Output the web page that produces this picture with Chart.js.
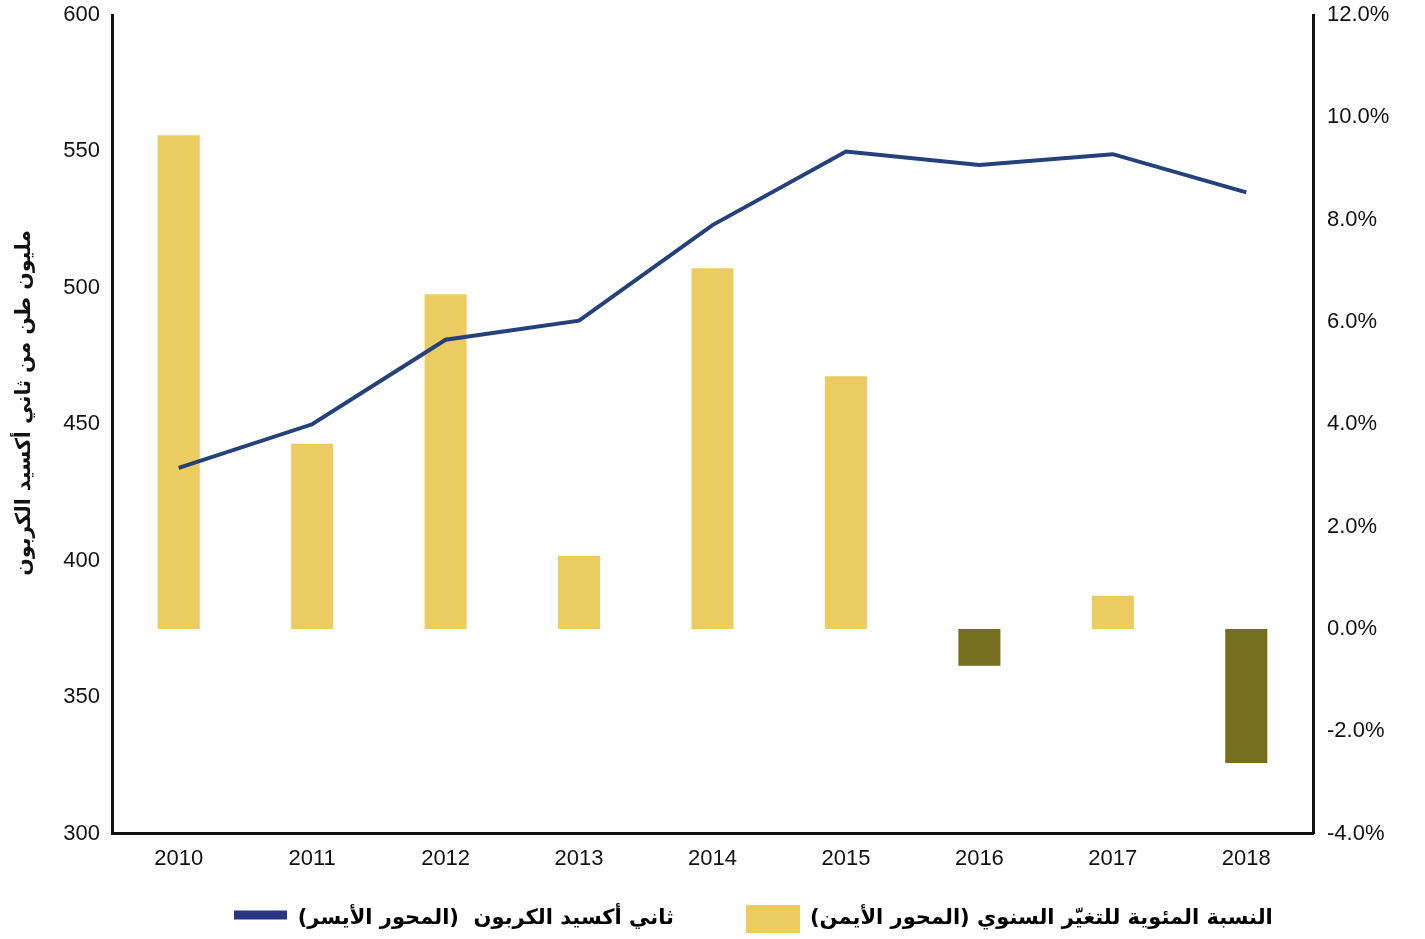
<!DOCTYPE html>
<html>
<head>
<meta charset="utf-8">
<script src="https://cdn.jsdelivr.net/npm/chart.js@4"></script>
<style>
  html, body { margin: 0; padding: 0; background: #fff; }
  #wrap { width: 1425px; height: 939px; }
</style>
</head>
<body>
<div id="wrap"><canvas id="chart"></canvas></div>
<script>
const years = ['2010', '2011', '2012', '2013', '2014', '2015', '2016', '2017', '2018'];
// million tonnes of CO2 (left axis)
const co2 = [434, 450, 481, 488, 523, 550, 545, 549, 535];
// annual change in percent (right axis)
const changePct = [9.65, 3.62, 6.54, 1.43, 7.05, 4.94, -0.72, 0.65, -2.62];

const lineLabel = 'ثاني أكسيد الكربون  (المحور الأيسر)';
const barLabel = 'النسبة المئوية للتغيّر السنوي (المحور الأيمن)';
const yTitle = 'مليون طن من ثاني أكسيد الكربون';

const navy = '#24417B';
const legendNavy = '#283582';
const yellow = '#ECCC60';
const olive = '#756E1E';

const tickFont = { family: 'Liberation Sans, Arial, sans-serif', size: 22 };
const legendFont = { family: 'DejaVu Sans, sans-serif', size: 21, weight: 'bold' };
const titleFont = { family: 'DejaVu Sans, sans-serif', size: 20.5, weight: 'bold' };

// RTL embedding so the brackets sit the right way round
const rtl = s => '\u202B' + s + '\u202C';

// legend swatches: full box for the bars, thick stroke for the line
function swatch(w, h, color, y0, y1) {
  const c = document.createElement('canvas');
  c.width = w;
  c.height = h;
  const g = c.getContext('2d');
  g.fillStyle = color;
  g.fillRect(0, y0, w, y1 - y0);
  return c;
}
const lineSwatch = swatch(53, 28, legendNavy, 6, 15);
const barSwatch = swatch(54, 28, yellow, 0, 28);

// nudge the legend row to where it sits in the original
const legendShift = {
  id: 'legendShift',
  afterLayout(chart) {
    chart.legend.left += 41;
    chart.legend.right += 41;
  }
};

// hidden tick marks give the label offset without padding the ends of the axis
const noGrid = { display: false, drawTicks: true, tickLength: 12 };

new Chart(document.getElementById('chart'), {
  data: {
    labels: years,
    datasets: [
      {
        type: 'line',
        label: lineLabel,
        data: co2,
        yAxisID: 'y',
        borderColor: navy,
        borderWidth: 4,
        pointRadius: 0,
        tension: 0,
        order: 0
      },
      {
        type: 'bar',
        label: barLabel,
        data: changePct,
        yAxisID: 'y1',
        backgroundColor: changePct.map(v => v < 0 ? olive : yellow),
        barPercentage: 0.315,
        categoryPercentage: 1,
        order: 1
      }
    ]
  },
  plugins: [legendShift],
  options: {
    responsive: true,
    maintainAspectRatio: false,
    animation: false,
    layout: { padding: { top: 15, bottom: 0 } },
    plugins: {
      tooltip: { enabled: false },
      legend: {
        position: 'bottom',
        labels: {
          usePointStyle: true,
          pointStyleWidth: 53,
          padding: 36,
          color: '#111',
          font: legendFont,
          generateLabels: () => [
            { text: rtl('     ' + lineLabel), pointStyle: lineSwatch, lineWidth: 0, datasetIndex: 0 },
            { text: rtl(barLabel), pointStyle: barSwatch, lineWidth: 0, datasetIndex: 1 }
          ]
        }
      }
    },
    scales: {
      x: {
        grid: noGrid,
        border: { color: '#111', width: 3 },
        ticks: { color: '#111', font: tickFont, padding: 0 }
      },
      y: {
        position: 'left',
        min: 300,
        max: 600,
        grid: noGrid,
        border: { color: '#111', width: 3 },
        ticks: { stepSize: 50, color: '#111', font: tickFont, padding: 0 },
        title: {
          display: true,
          text: '      ' + yTitle,
          color: '#111',
          font: titleFont,
          padding: { top: 12, bottom: 4 }
        },
        afterFit: s => { s.width = 112; }
      },
      y1: {
        position: 'right',
        min: -4,
        max: 12,
        grid: { display: false, drawTicks: true, tickLength: 14 },
        border: { color: '#111', width: 3 },
        ticks: {
          stepSize: 2,
          color: '#111',
          font: tickFont,
          padding: 0,
          callback: v => v.toFixed(1) + '%'
        },
        afterFit: s => { s.width = 112; }
      }
    }
  }
});
</script>
</body>
</html>
